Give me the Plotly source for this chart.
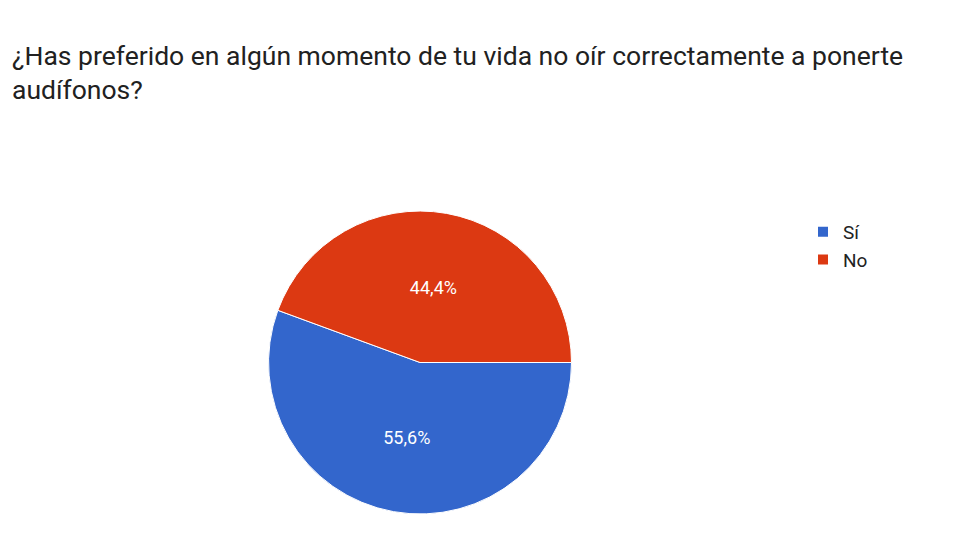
import plotly.graph_objects as go

labels = ["Sí", "No"]
values = [55.6, 44.4]
text_labels = ["55,6%", "44,4%"]
colors = ["#3366cc", "#dc3912"]

fig = go.Figure(go.Pie(
    labels=labels, values=values, text=text_labels, textinfo="text",
    textposition="inside", insidetextorientation="horizontal",
    marker=dict(colors=colors, line=dict(color="white", width=1)),
    sort=False, direction="clockwise", rotation=90,
    textfont=dict(color="white", size=18, family="Roboto"),
    domain=dict(x=[0.2711, 0.5873], y=[0.063, 0.624]),
    hoverinfo="label+percent",
))
fig.update_layout(
    width=960, height=540, margin=dict(l=0, r=0, t=0, b=0),
    paper_bgcolor="white", plot_bgcolor="white",
    font=dict(family="Roboto", color="#212121"),
    annotations=[dict(text="¿Has preferido en algún momento de tu vida no oír correctamente a ponerte<br>audífonos?",
                      x=2/960, y=1-30/540, xref="paper", yref="paper", xanchor="left", yanchor="top",
                      align="left", showarrow=False, font=dict(size=26.5, color="#212121", family="Roboto"))],
    legend=dict(x=795/960, y=1-205/540, xanchor="left", yanchor="top",
                font=dict(size=19, color="#222222"), itemsizing="constant"),
)
fig.write_html("out.html")
